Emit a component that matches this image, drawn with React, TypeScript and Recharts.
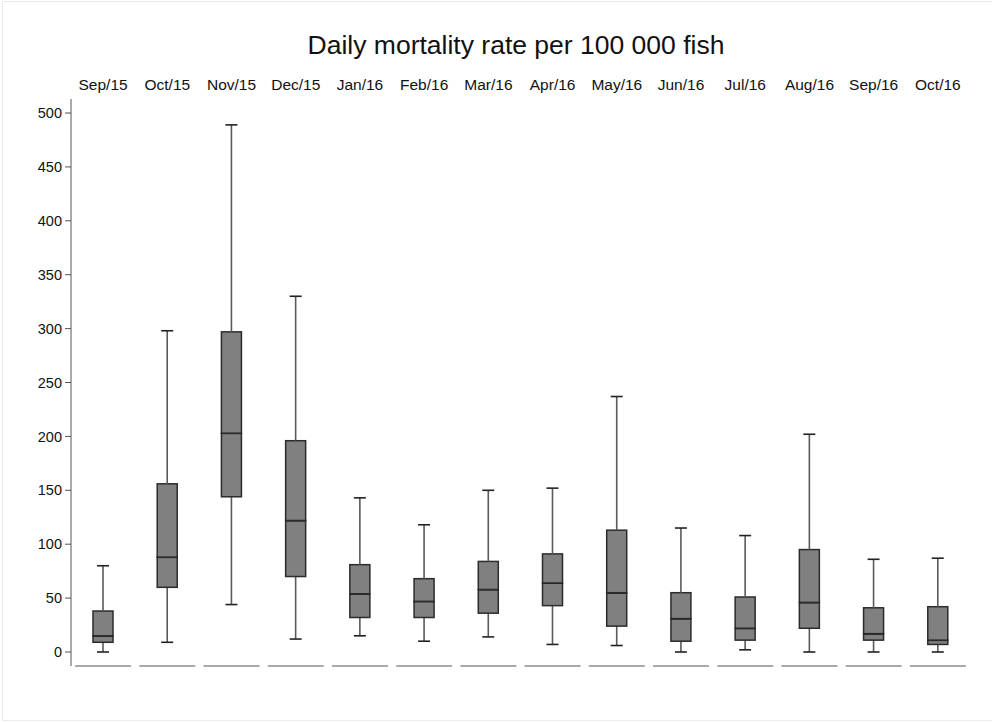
import React from "react";
import { ComposedChart, Bar, XAxis, YAxis } from "recharts";

const months = [
  "Sep/15", "Oct/15", "Nov/15", "Dec/15", "Jan/16", "Feb/16", "Mar/16",
  "Apr/16", "May/16", "Jun/16", "Jul/16", "Aug/16", "Sep/16", "Oct/16",
];
const mins = [0, 9, 44, 12, 15, 10, 14, 7, 6, 0, 2, 0, 0, 0];
const q1s = [9, 60, 144, 70, 32, 32, 36, 43, 24, 10, 11, 22, 11, 7];
const medians = [15, 88, 203, 122, 54, 47, 58, 64, 55, 31, 22, 46, 17, 11];
const q3s = [38, 156, 297, 196, 81, 68, 84, 91, 113, 55, 51, 95, 41, 42];
const maxs = [80, 298, 489, 330, 143, 118, 150, 152, 237, 115, 108, 202, 86, 87];
const yTicks = [0, 50, 100, 150, 200, 250, 300, 350, 400, 450, 500];

// stacked pieces: base -> lower whisker -> lower box -> upper box -> upper whisker
const data = months.map((m, i) => ({
  month: m,
  base: mins[i],
  lowWhisker: q1s[i] - mins[i],
  lowBox: medians[i] - q1s[i],
  highBox: q3s[i] - medians[i],
  highWhisker: maxs[i] - q3s[i],
}));

const FONT = "'Liberation Sans', Arial, Helvetica, sans-serif";
const BOX_FILL = "#808080";
const BOX_STROKE = "#2b2b2b";
const STEM = "#5a5a5a";
const CAP = 6;

const LowWhisker = (p: any) => {
  const { x, y, width, height } = p;
  const cx = x + width / 2;
  const yb = y + height;
  return (
    <g>
      <line x1={cx} x2={cx} y1={y} y2={yb} stroke={STEM} strokeWidth={1.6} />
      <line x1={cx - CAP} x2={cx + CAP} y1={yb} y2={yb} stroke="#222" strokeWidth={1.6} />
    </g>
  );
};

const HighWhisker = (p: any) => {
  const { x, y, width, height } = p;
  const cx = x + width / 2;
  return (
    <g>
      <line x1={cx} x2={cx} y1={y} y2={y + height} stroke={STEM} strokeWidth={1.6} />
      <line x1={cx - CAP} x2={cx + CAP} y1={y} y2={y} stroke="#222" strokeWidth={1.6} />
    </g>
  );
};

const BoxPart = (p: any) => {
  const { x, y, width, height } = p;
  return (
    <rect x={x} y={y} width={width} height={height} fill={BOX_FILL} stroke={BOX_STROKE} strokeWidth={1.5} />
  );
};

const LowBox = (p: any) => {
  const { x, y, width } = p;
  return (
    <g>
      <BoxPart {...p} />
      <line x1={x} x2={x + width} y1={y} y2={y} stroke="#1a1a1a" strokeWidth={2} />
    </g>
  );
};

// bottom axis drawn as one short baseline segment per month
const SegmentTick = (p: any) => {
  const { x, y } = p;
  return <line x1={x - 28} x2={x + 28} y1={y} y2={y} stroke="#555" strokeWidth={1} />;
};

export default function App() {
  return (
    <div
      style={{
        position: "absolute",
        left: 0,
        top: 0,
        width: 992,
        height: 722,
        background: "#fff",
        fontFamily: FONT,
      }}
    >
      <div
        style={{
          position: "absolute",
          left: 2,
          top: 1,
          width: 990,
          height: 718,
          borderLeft: "1px solid #e6ecea",
          borderTop: "1px solid #e6ecea",
          borderBottom: "1px solid #e6ecea",
        }}
      />
      <div
        style={{
          position: "absolute",
          left: 35,
          top: 30,
          width: 962,
          textAlign: "center",
          fontSize: 26.5,
          color: "#111",
          lineHeight: "30px",
        }}
      >
        Daily mortality rate per 100 000 fish
      </div>
      <div style={{ position: "absolute", left: 0, top: 0 }}>
        <ComposedChart
          width={992}
          height={722}
          data={data}
          margin={{ top: 69, right: 22, bottom: 0, left: 0 }}
          style={{ fontFamily: FONT }}
        >
          <XAxis
            xAxisId="top"
            orientation="top"
            dataKey="month"
            height={30}
            interval={0}
            axisLine={false}
            tickLine={false}
            tickSize={0}
            tickMargin={9}
            tick={{ fontSize: 15.5, fill: "#111", fontFamily: FONT }}
          />
          <XAxis
            xAxisId="bottom"
            orientation="bottom"
            dataKey="month"
            height={56}
            interval={0}
            axisLine={false}
            tickLine={false}
            tickSize={0}
            tickMargin={0}
            tick={<SegmentTick />}
          />
          <YAxis
            type="number"
            domain={[-13, 513]}
            ticks={yTicks}
            width={71}
            axisLine={{ stroke: "#555", strokeWidth: 1 }}
            tickLine={{ stroke: "#555" }}
            tickSize={6}
            tickMargin={3}
            tick={{ fontSize: 14.5, fill: "#111", fontFamily: FONT }}
            allowDataOverflow
          />
          <Bar xAxisId="top" dataKey="base" stackId="b" barSize={20} fill="none" isAnimationActive={false} />
          <Bar xAxisId="top" dataKey="lowWhisker" stackId="b" barSize={20} shape={<LowWhisker />} isAnimationActive={false} />
          <Bar xAxisId="top" dataKey="lowBox" stackId="b" barSize={20} shape={<LowBox />} isAnimationActive={false} />
          <Bar xAxisId="top" dataKey="highBox" stackId="b" barSize={20} shape={<BoxPart />} isAnimationActive={false} />
          <Bar xAxisId="top" dataKey="highWhisker" stackId="b" barSize={20} shape={<HighWhisker />} isAnimationActive={false} />
        </ComposedChart>
      </div>
    </div>
  );
}
